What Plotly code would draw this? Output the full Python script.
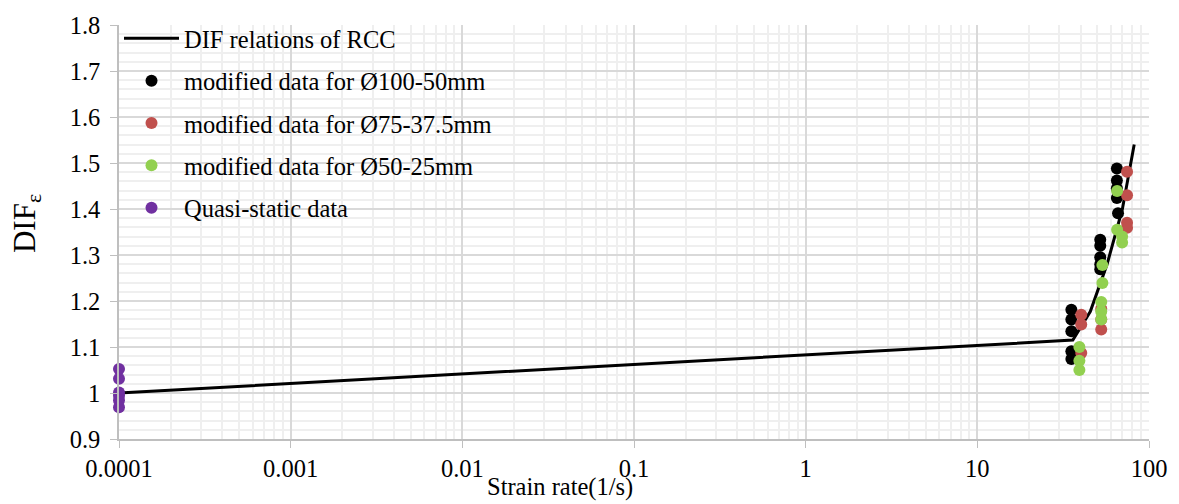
import plotly.graph_objects as go

# ---------------- data ----------------
line_x = [0.0001, 36, 45.5, 57, 70, 82]
line_y = [1.0, 1.115, 1.177, 1.28, 1.40, 1.54]

black_x = [35.3, 35.3, 35.3, 35.3, 35.3, 52, 52, 52, 52, 52, 65, 65, 65, 65, 66]
black_y = [1.181, 1.160, 1.134, 1.091, 1.074, 1.333, 1.320, 1.295, 1.280, 1.269, 1.488, 1.462, 1.445, 1.424, 1.391]

red_x = [40.3, 40.3, 40.3, 52.7, 52.7, 52.7, 74.5, 74.5, 74.5, 74.5]
red_y = [1.170, 1.149, 1.087, 1.183, 1.160, 1.138, 1.481, 1.430, 1.370, 1.359]

green_x = [39.3, 39.3, 39.3, 53.5, 53.5, 52.7, 52.7, 52.7, 65.2, 65.2, 69.7, 69.7]
green_y = [1.100, 1.070, 1.050, 1.278, 1.239, 1.198, 1.177, 1.160, 1.439, 1.355, 1.327, 1.340]

purple_x = [0.0001, 0.0001, 0.0001, 0.0001, 0.0001, 0.0001]
purple_y = [1.052, 1.031, 1.001, 0.994, 0.984, 0.969]

x_tickvals = [0.0001, 0.001, 0.01, 0.1, 1, 10, 100]
x_ticktext = ["0.0001", "0.001", "0.01", "0.1", "1", "10", "100"]
y_tickvals = [0.9, 1.0, 1.1, 1.2, 1.3, 1.4, 1.5, 1.6, 1.7, 1.8]
y_ticktext = ["0.9", "1", "1.1", "1.2", "1.3", "1.4", "1.5", "1.6", "1.7", "1.8"]

names = ["DIF relations of RCC", "modified data for Ø100-50mm",
         "modified data for Ø75-37.5mm", "modified data for Ø50-25mm",
         "Quasi-static data"]

FONT = "Liberation Serif, Times New Roman, DejaVu Serif, serif"

fig = go.Figure()
fig.add_trace(go.Scatter(x=line_x, y=line_y, mode="lines", name=names[0],
                         line=dict(color="black", width=3), legendgroup="a"))
fig.add_trace(go.Scatter(x=black_x, y=black_y, mode="markers", name=names[1],
                         marker=dict(color="black", size=12), legendgroup="b"))
fig.add_trace(go.Scatter(x=red_x, y=red_y, mode="markers", name=names[2],
                         marker=dict(color="#c0504d", size=12), legendgroup="c"))
fig.add_trace(go.Scatter(x=green_x, y=green_y, mode="markers", name=names[3],
                         marker=dict(color="#92d050", size=12), legendgroup="d"))
fig.add_trace(go.Scatter(x=purple_x, y=purple_y, mode="markers", name=names[4],
                         marker=dict(color="#7030a0", size=12), legendgroup="e",
                         cliponaxis=False))

fig.update_layout(
    width=1179, height=504,
    margin=dict(l=119, r=25, t=20, b=65),
    paper_bgcolor="white", plot_bgcolor="white",
    font=dict(family=FONT, size=24, color="black"),
    showlegend=True,
    legend=dict(x=0.0, y=1.022, xanchor="left", yanchor="top",
                bgcolor="rgba(255,255,255,0)", font=dict(size=24.5, family=FONT),
                tracegroupgap=7.5, itemwidth=55, borderwidth=0),
)

fig.update_xaxes(type="log", range=[-4, 2],
                 tickvals=x_tickvals, ticktext=x_ticktext,
                 showline=True, linecolor="#bfbfbf", linewidth=1.5,
                 ticks="outside", ticklen=7, tickcolor="#bfbfbf",
                 showgrid=True, gridcolor="#d9d9d9", gridwidth=1.5,
                 minor=dict(dtick="D1", showgrid=True, gridcolor="#efefef", gridwidth=1.5, ticks=""),
                 tickfont=dict(size=24.5, family=FONT), zeroline=False)
fig.update_yaxes(range=[0.9, 1.8],
                 tickvals=y_tickvals, ticktext=y_ticktext,
                 showline=True, linecolor="#bfbfbf", linewidth=1.5,
                 ticks="outside", ticklen=7, tickcolor="#bfbfbf",
                 showgrid=True, gridcolor="#d9d9d9", gridwidth=1.5,
                 minor=dict(dtick=0.02, showgrid=True, gridcolor="#efefef", gridwidth=1.5, ticks=""),
                 ticklabelstandoff=5,
                 tickfont=dict(size=24.5, family=FONT), zeroline=False)

fig.add_annotation(text="Strain rate(1/s)", xref="paper", yref="paper",
                   x=0.428, y=-0.117, xanchor="center", yanchor="middle",
                   showarrow=False, font=dict(size=24.5, family=FONT))
fig.add_annotation(text="DIF<sub>ε</sub>", xref="paper", yref="paper",
                   x=-0.09, y=0.52, xanchor="center", yanchor="middle",
                   textangle=-90, showarrow=False, font=dict(size=31, family=FONT))

fig.write_html("out.html")
